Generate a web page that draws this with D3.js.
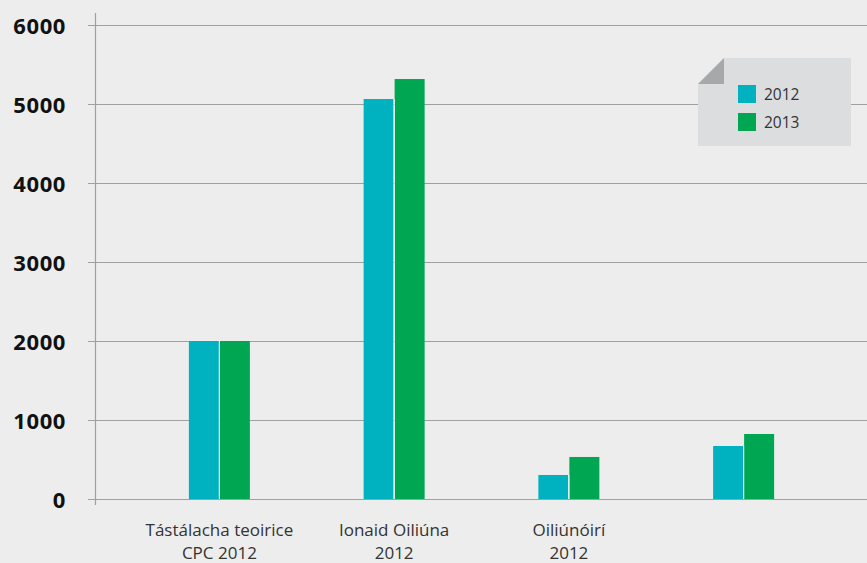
<!DOCTYPE html>
<html>
<head>
<meta charset="utf-8">
<script src="https://cdn.jsdelivr.net/npm/d3@7"></script>
<style>
  body { margin: 0; background: #ededed; }
  svg { display: block; }
  .ylab { font-family: "Open Sans", sans-serif; font-weight: 700; font-size: 22px; letter-spacing: 0.6px; fill: #111; }
  .xlab { font-family: "Open Sans", sans-serif; font-weight: 400; font-size: 17px; fill: #333; }
  .leg { font-family: "Open Sans", sans-serif; font-size: 15.5px; fill: #333; }
</style>
</head>
<body>
<div class="chart"></div>
<script>
// data
var categories = ["Tástálacha teoirice\nCPC 2012", "Ionaid Oiliúna\n2012", "Oiliúnóirí\n2012", ""];
var series = ["2012", "2013"];
var values2012 = [2000, 5063, 304, 671];
var values2013 = [2000, 5316, 532, 823];
var yTicks = [0, 1000, 2000, 3000, 4000, 5000, 6000];
var colors = ["#00b1bf", "#00a651"];

var W = 867, H = 563;

var svg = d3.select(".chart").append("svg")
    .attr("width", W)
    .attr("height", H);

svg.append("rect").attr("width", W).attr("height", H).attr("fill", "#ededed");

// scales
var y = d3.scaleLinear().domain([0, 6000]).range([499, 25]);
var x = d3.scaleBand().domain(categories).range([132, 831]).padding(0);
var barW = 30;

// gridlines
svg.append("g").selectAll("line")
    .data(yTicks)
    .enter().append("line")
    .attr("x1", 88).attr("x2", W)
    .attr("y1", function(d) { return Math.round(y(d)) + 0.5; })
    .attr("y2", function(d) { return Math.round(y(d)) + 0.5; })
    .attr("stroke", "#a0a0a0")
    .attr("stroke-width", 1.2);

// vertical axis line
svg.append("line")
    .attr("x1", 95.5).attr("x2", 95.5)
    .attr("y1", 13).attr("y2", 505)
    .attr("stroke", "#a0a0a0")
    .attr("stroke-width", 1.2);

// y labels
svg.append("g").selectAll("text")
    .data(yTicks)
    .enter().append("text")
    .attr("class", "ylab")
    .attr("x", 66)
    .attr("y", function(d) { return y(d) + 1; })
    .attr("dy", "0.36em")
    .attr("text-anchor", "end")
    .text(function(d) { return d; });

// bars
var groups = svg.append("g").selectAll("g")
    .data(categories)
    .enter().append("g")
    .attr("transform", function(d) { return "translate(" + (x(d) + x.bandwidth() / 2) + ",0)"; });

groups.append("rect")
    .attr("x", -barW - 0.5)
    .attr("width", barW)
    .attr("y", function(d, i) { return y(values2012[i]); })
    .attr("height", function(d, i) { return y(0) - y(values2012[i]); })
    .attr("fill", colors[0]);

groups.append("rect")
    .attr("x", 0.5)
    .attr("width", barW)
    .attr("y", function(d, i) { return y(values2013[i]); })
    .attr("height", function(d, i) { return y(0) - y(values2013[i]); })
    .attr("fill", colors[1]);

// white separator between the two bars
groups.append("rect")
    .attr("x", -0.5)
    .attr("width", 1)
    .attr("y", function(d, i) { return y(Math.min(values2012[i], values2013[i])); })
    .attr("height", function(d, i) { return y(0) - y(Math.min(values2012[i], values2013[i])); })
    .attr("fill", "#ffffff");

// category labels
groups.each(function(d) {
    var lines = d.split("\n");
    var t = d3.select(this).append("text")
        .attr("class", "xlab")
        .attr("text-anchor", "middle");
    lines.forEach(function(l, k) {
        t.append("tspan").attr("x", 0).attr("y", 536 + k * 23).text(l);
    });
});

// legend
var leg = svg.append("g");
leg.append("path")
    .attr("d", "M724,58 L851,58 L851,146 L698,146 L698,84 Z")
    .attr("fill", "#dcdddf");
leg.append("path")
    .attr("d", "M724,58 L724,84 L698,84 Z")
    .attr("fill", "#a7a8aa");

series.forEach(function(s, i) {
    leg.append("rect")
        .attr("x", 738).attr("y", 85 + i * 28)
        .attr("width", 18).attr("height", 18)
        .attr("fill", colors[i]);
    leg.append("text")
        .attr("class", "leg")
        .attr("x", 764).attr("y", 94 + i * 28)
        .attr("dy", "0.36em")
        .text(s);
});
</script>
</body>
</html>
